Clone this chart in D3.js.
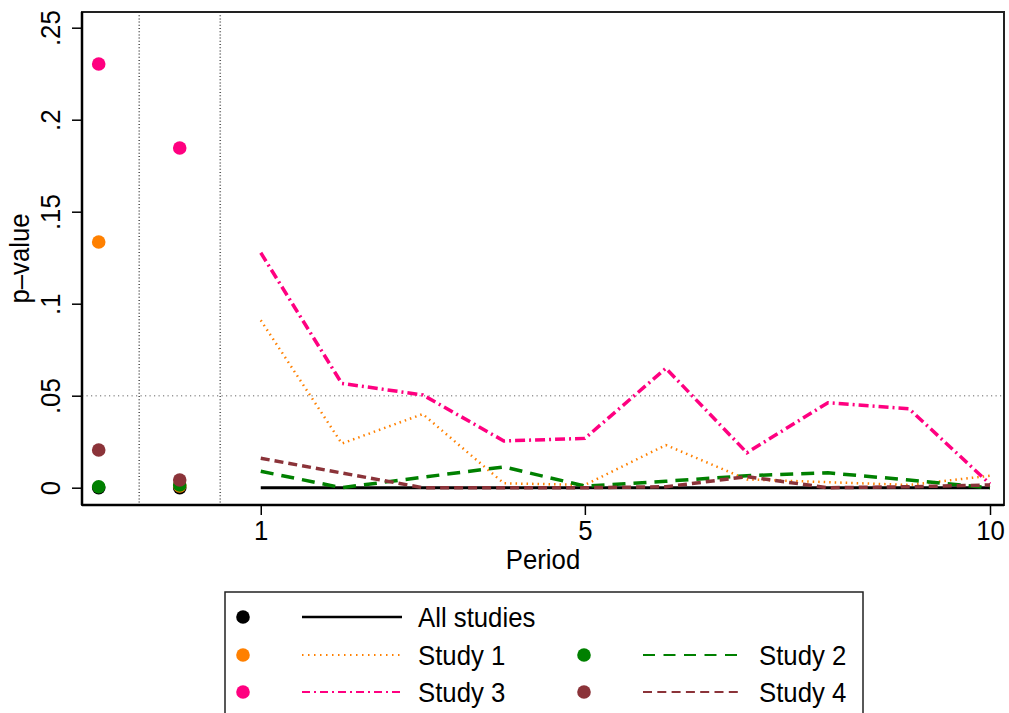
<!DOCTYPE html>
<meta charset="utf-8">
<script src="https://cdn.jsdelivr.net/npm/d3@7"></script>
<style>
body { margin: 0; background: #fff; }
text { font-family: "Liberation Sans", Arial, sans-serif; fill: #000; }
</style>
<body>
<script>

// periods shown as lines
var periods = [1, 2, 3, 4, 5, 6, 7, 8, 9, 10];
var allStudies = [0, 0, 0, 0, 0, 0, 0, 0, 0, 0];
var study1 = [0.091, 0.024, 0.040, 0.0024, 0.0015, 0.0232, 0.0045, 0.003, 0.0015, 0.0065];
var study2 = [0.0089, 0.0, 0.0057, 0.0113, 0.0009, 0.0035, 0.0065, 0.0081, 0.0042, 0.0];
var study3 = [0.1277, 0.0567, 0.0504, 0.0254, 0.0268, 0.0649, 0.0190, 0.0462, 0.0429, 0.002];
var study4 = [0.016, 0.008, 0, 0, 0, 0.0005, 0.006, 0, 0.0005, 0.0015];

// the two single points on the left
var dotX = [-1, 0];
var dotAll = [0, 0];
var dot1 = [0.1335, 0.001];
var dot2 = [0.0005, 0.0015];
var dot3 = [0.2303, 0.1846];
var dot4 = [0.0205, 0.0042];

var xTicks = [1, 5, 10];
var yTicks = [0, 0.05, 0.1, 0.15, 0.2, 0.25];
var refLinesX = [-0.5, 0.5];
var refLineY = 0.05;

var series = [
  {name: "All studies", lines: allStudies, dots: dotAll, color: "#000000", width: 3, dash: null, legDash: null},
  {name: "Study 1", lines: study1, dots: dot1, color: "#ff8000", width: 2.5, dash: "1.5,4", legDash: "1.5,4.5"},
  {name: "Study 2", lines: study2, dots: dot2, color: "#008000", width: 3.5, dash: "13,8", legDash: "12,8.5"},
  {name: "Study 3", lines: study3, dots: dot3, color: "#ff0080", width: 3.5, dash: "10,4,2,4", legDash: "8,4,2,4"},
  {name: "Study 4", lines: study4, dots: dot4, color: "#8b3339", width: 3.5, dash: "9,5", legDash: "9,5.3"}
];

var width = 1009, height = 713;
var pLeft = 82, pRight = 1004, pTop = 12, pBottom = 505;
var fontSize = "28px", squeeze = 0.92;

var svg = d3.select("body").append("svg")
    .attr("width", width)
    .attr("height", height);

var x = d3.scaleLinear().domain([-1, 10]).range([98.7, 990]);
var y = d3.scaleLinear().domain([0, 0.25]).range([487.7, 27.7]);

function fmt(d) {
  return d === 0 ? "0" : String(d).replace(/^0/, "");
}

// text helper: narrow-looking text like the original
function label(parent, px, py, str, anchor, rot) {
  var t = parent.append("text")
      .attr("transform", "translate(" + px + "," + py + ")" + (rot ? " rotate(-90)" : "") + " scale(" + squeeze + ",1)")
      .attr("text-anchor", anchor || "start")
      .style("font-size", fontSize)
      .text(str);
  return t;
}

// reference lines
svg.append("g").selectAll("line")
  .data(refLinesX)
  .enter().append("line")
    .attr("x1", function(d) { return x(d); })
    .attr("x2", function(d) { return x(d); })
    .attr("y1", pTop)
    .attr("y2", pBottom)
    .style("stroke", "#555")
    .style("stroke-width", 1.6)
    .style("stroke-dasharray", "1,2.2");

svg.append("line")
    .attr("x1", pLeft).attr("x2", pRight)
    .attr("y1", y(refLineY)).attr("y2", y(refLineY))
    .style("stroke", "#999")
    .style("stroke-width", 1.6)
    .style("stroke-dasharray", "1.2,3.3");

// lines
var line = d3.line()
    .x(function(d) { return x(d[0]); })
    .y(function(d) { return y(d[1]); });

svg.append("g").selectAll("path")
  .data(series)
  .enter().append("path")
    .attr("d", function(s) { return line(periods.map(function(p, i) { return [p, s.lines[i]]; })); })
    .style("fill", "none")
    .style("stroke", function(s) { return s.color; })
    .style("stroke-width", function(s) { return s.width; })
    .style("stroke-dasharray", function(s) { return s.dash; });

// dots
series.forEach(function(s) {
  svg.append("g").selectAll("circle")
    .data(dotX.map(function(v, i) { return [v, s.dots[i]]; }))
    .enter().append("circle")
      .attr("cx", function(d) { return x(d[0]); })
      .attr("cy", function(d) { return y(d[1]); })
      .attr("r", 6.8)
      .style("fill", s.color);
});

// frame
svg.append("rect")
    .attr("x", pLeft).attr("y", pTop)
    .attr("width", pRight - pLeft).attr("height", pBottom - pTop)
    .style("fill", "none")
    .style("stroke", "#222")
    .style("stroke-width", 2);

// axes
var yAxis = svg.append("g")
    .attr("transform", "translate(" + pLeft + ",0)")
    .call(d3.axisLeft(y).tickValues(yTicks).tickFormat(fmt).tickSize(10).tickPadding(0));
yAxis.select(".domain").attr("d", "M0," + pTop + "V" + pBottom).style("stroke-width", 2.5);
yAxis.selectAll(".tick line").style("stroke-width", 1.5);
yAxis.selectAll(".tick text").remove();
yAxis.selectAll(".tick").each(function(d) {
  label(d3.select(this), -22, 0, fmt(d), "middle", true);
});

var xAxis = svg.append("g")
    .attr("transform", "translate(0," + pBottom + ")")
    .call(d3.axisBottom(x).tickValues(xTicks).tickFormat(d3.format("d")).tickSize(10).tickPadding(0));
xAxis.select(".domain").attr("d", "M" + pLeft + ",0H" + pRight).style("stroke-width", 2.5);
xAxis.selectAll(".tick line").style("stroke-width", 1.5);
xAxis.selectAll(".tick text").remove();
xAxis.selectAll(".tick").each(function(d) {
  label(d3.select(this), 0, 35, String(d), "middle", false);
});

// titles
label(svg, (pLeft + pRight) / 2, 569, "Period", "middle", false);
label(svg, 29, (pTop + pBottom) / 2, "p\u2013value", "middle", true);

// legend
var legend = svg.append("g");
legend.append("rect")
    .attr("x", 225).attr("y", 592)
    .attr("width", 638).attr("height", 140)
    .style("fill", "#fff")
    .style("stroke", "#222")
    .style("stroke-width", 1.5);

var legPos = [
  {col: 0, row: 0}, {col: 0, row: 1}, {col: 1, row: 1}, {col: 0, row: 2}, {col: 1, row: 2}
];
var colX = [243, 584];
var rowY = [617, 655, 692];

series.forEach(function(s, i) {
  var cx = colX[legPos[i].col], cy = rowY[legPos[i].row];
  var g = legend.append("g");
  g.append("circle").attr("cx", cx).attr("cy", cy).attr("r", 6.8).style("fill", s.color);
  g.append("line")
      .attr("x1", cx + 59).attr("x2", cx + 159)
      .attr("y1", cy).attr("y2", cy)
      .style("stroke", s.color)
      .style("stroke-width", s.width === 3 ? 2.5 : 2.2)
      .style("stroke-dasharray", s.legDash);
  label(g, cx + 175, cy + 10, s.name, "start", false);
});

</script>
</body>
